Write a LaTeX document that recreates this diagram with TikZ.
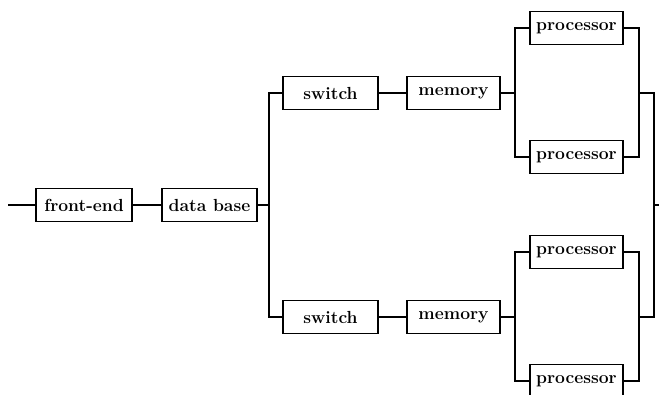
\documentclass[tikz,border=0pt]{standalone}
\begin{document}
\begin{tikzpicture}[x=1pt,y=-1pt,
  blk/.style={draw,line width=1.2pt,minimum height=33pt,inner sep=0pt,font=\fontsize{17.5}{20}\selectfont\bfseries},
  wire/.style={line width=1.2pt}]
\useasboundingbox (0,0) rectangle (659,394);
\clip (0,0) rectangle (659,394);
\node[blk,minimum width=96pt] (fe) at (84,205) {front-end};
\node[blk,minimum width=95pt] (db) at (209.5,205) {data base};
\node[blk,minimum width=95pt] (sw1) at (330.5,93) {switch};
\node[blk,minimum width=93pt] (mem1) at (453.5,93) {memory};
\node[blk,minimum width=93pt] (p1) at (576.5,28) {processor};
\node[blk,minimum width=93pt] (p2) at (576.5,157) {processor};
\node[blk,minimum width=95pt] (sw2) at (330.5,317) {switch};
\node[blk,minimum width=93pt] (mem2) at (453.5,317) {memory};
\node[blk,minimum width=93pt] (p3) at (576.5,252) {processor};
\node[blk,minimum width=93pt] (p4) at (576.5,381) {processor};
\coordinate (in) at (8,205);
\coordinate (j1) at (269,205);
\coordinate (j2) at (515,93);
\coordinate (j3) at (639,93);
\coordinate (j4) at (515,317);
\coordinate (j5) at (639,317);
\coordinate (k1) at (654,93);
\coordinate (k2) at (654,317);
\coordinate (ko) at (654,205);
\coordinate (out) at (659,205);
\draw[wire] (in) -- (fe.west);
\draw[wire] (fe) -- (db);
\draw[wire] (db.east) -- (j1);
\draw[wire] (sw1.west) -| (j1) |- (sw2.west);
\draw[wire] (sw1) -- (mem1);
\draw[wire] (sw2) -- (mem2);
\draw[wire] (mem1.east) -- (j2);
\draw[wire] (p1.west) -| (j2) |- (p2.west);
\draw[wire] (mem2.east) -- (j4);
\draw[wire] (p3.west) -| (j4) |- (p4.west);
\draw[wire] (p1.east) -| (j3) |- (p2.east);
\draw[wire] (p3.east) -| (j5) |- (p4.east);
\draw[wire] (j3) -- (k1) -- (k2) -- (j5);
\draw[wire] (ko) -- (out);
\end{tikzpicture}
\end{document}
